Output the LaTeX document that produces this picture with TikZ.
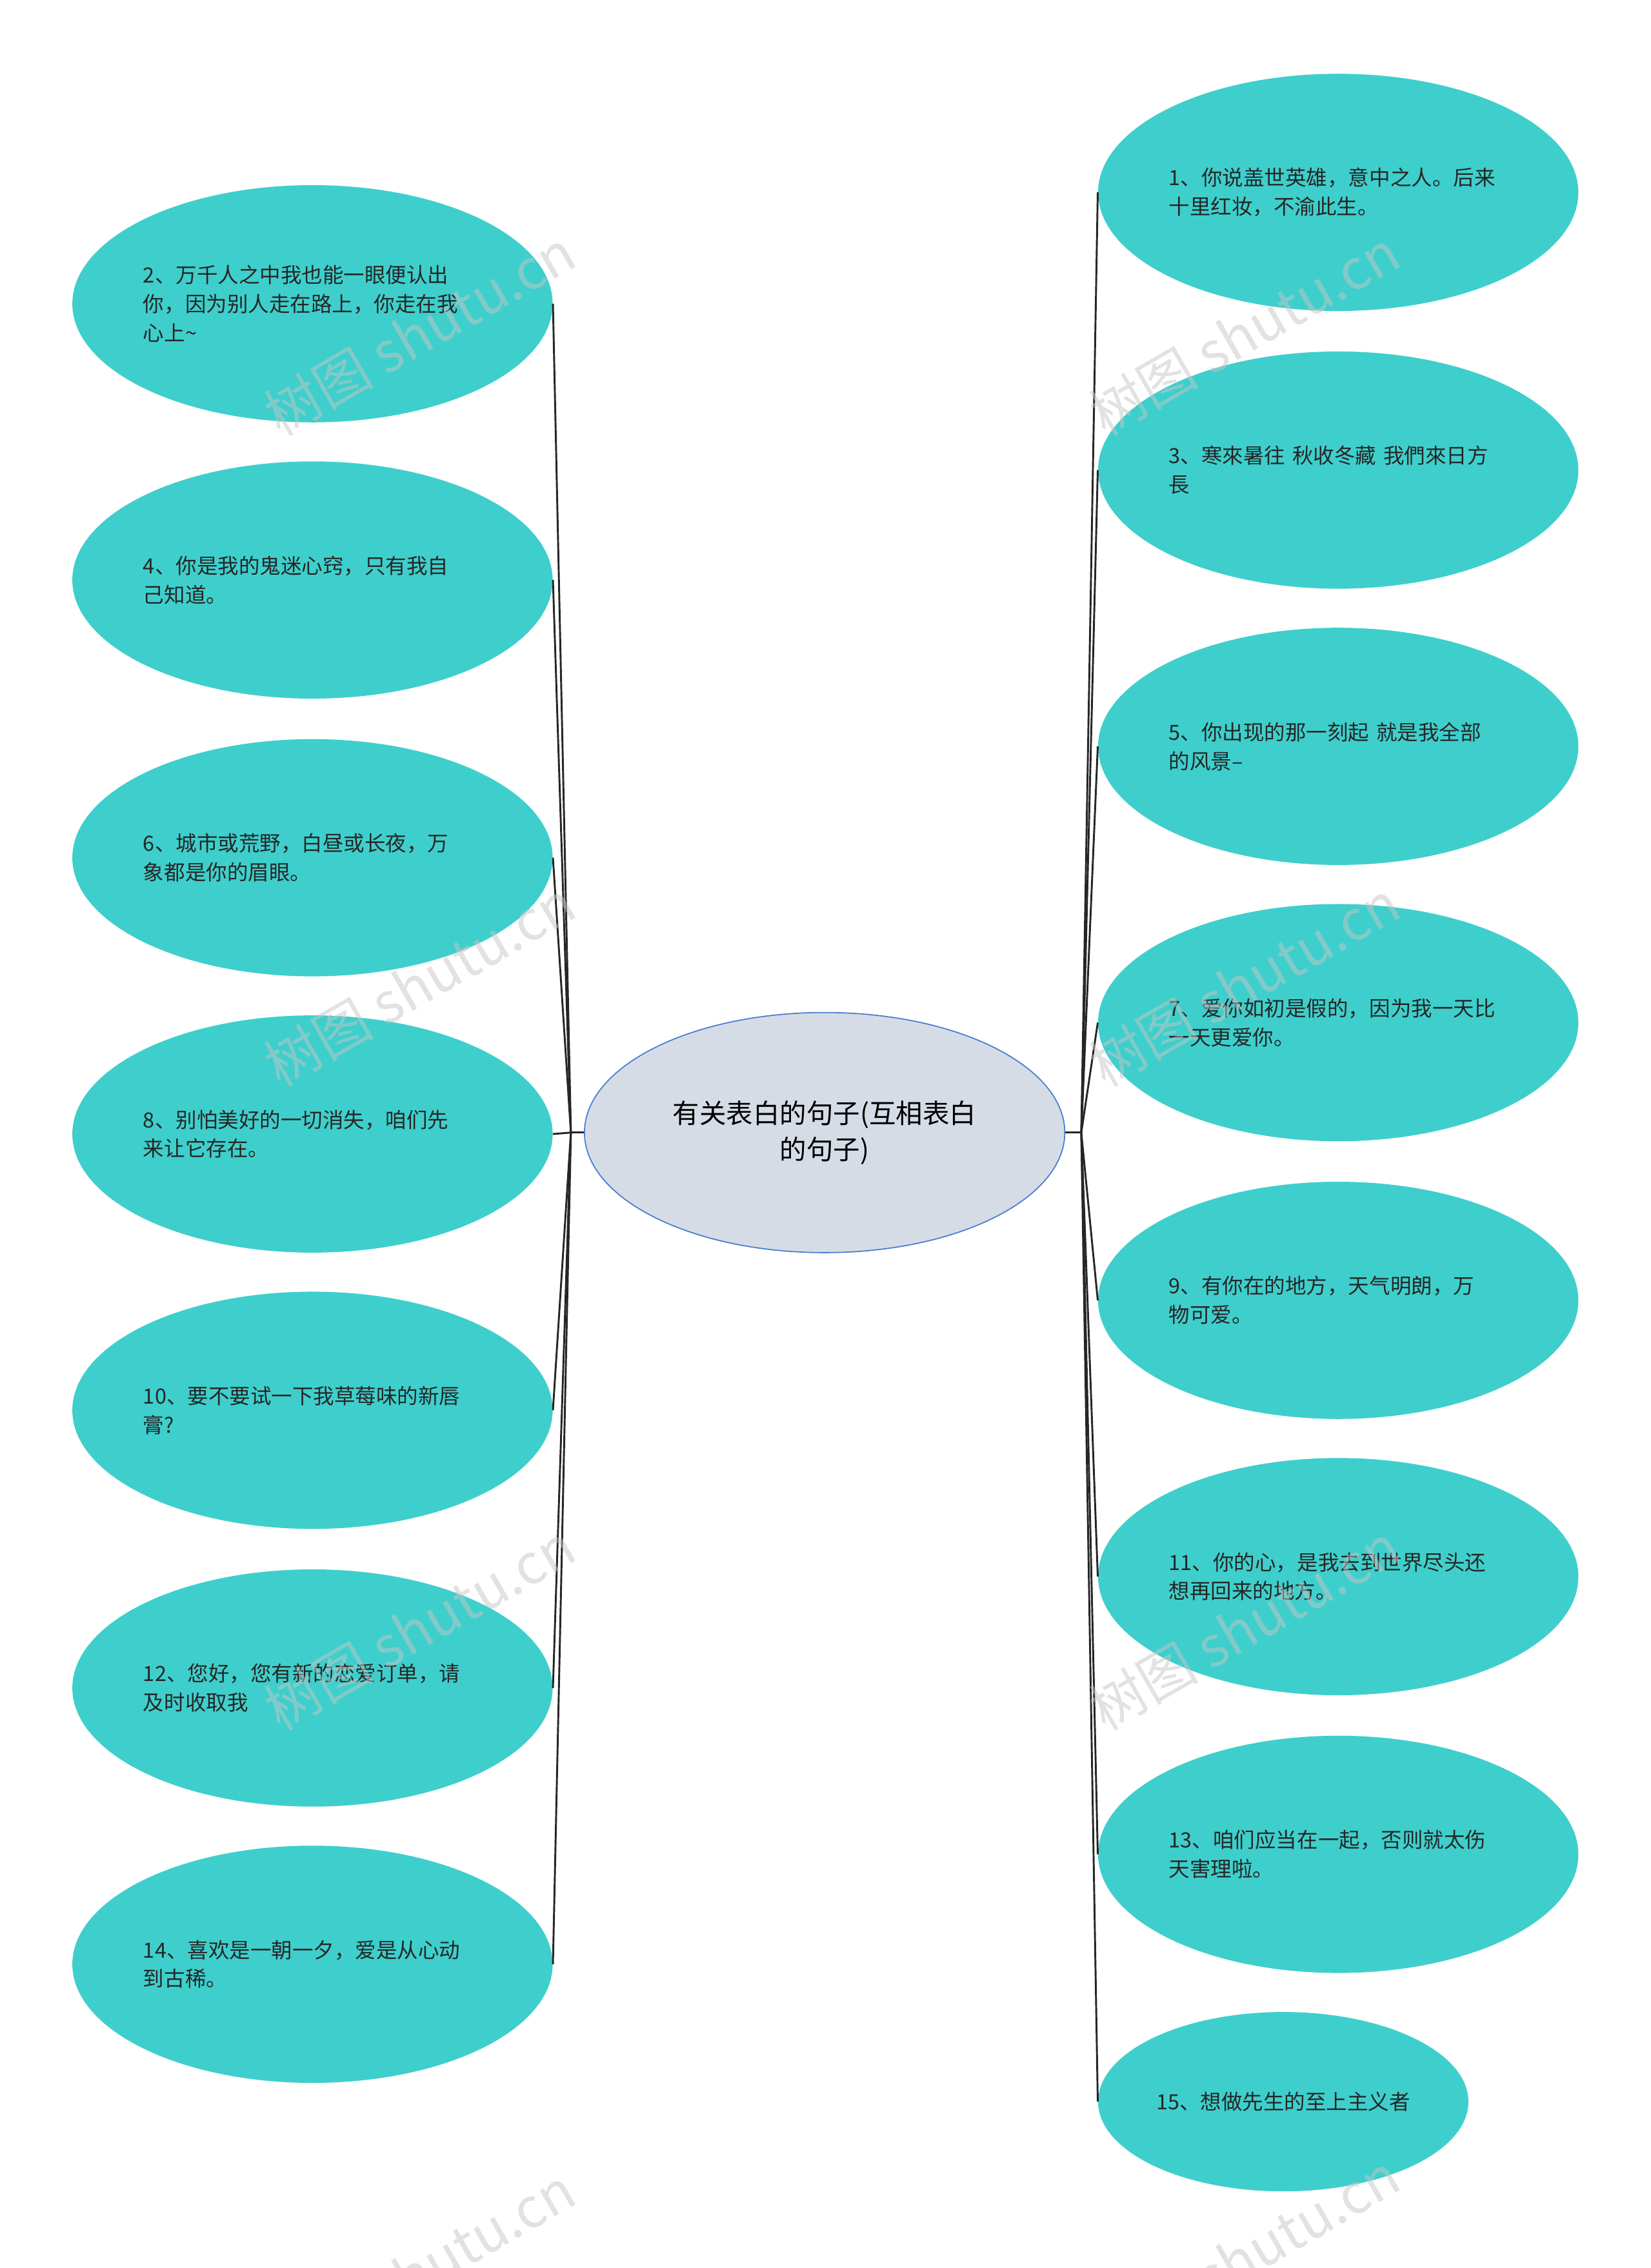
\documentclass[tikz,border=0pt]{standalone}
\usepackage{fontspec}
\setmainfont{Noto Sans CJK SC}
\usetikzlibrary{shapes.geometric}
\definecolor{leaf}{HTML}{3ECFCC}
\definecolor{cfill}{HTML}{D6DCE6}
\definecolor{cline}{HTML}{4A7FD0}
\begin{document}
\begin{tikzpicture}[x=1pt,y=-1pt,
  leafbox/.style={ellipse,fill=leaf,draw=none,minimum width=332pt,minimum height=164pt,inner sep=0pt,text width=234pt,align=left,font=\fontsize{14.5}{20}\selectfont,text=black!85},
  conn/.style={draw=black!85,line width=1.3pt},
  wm/.style={text=gray!45,opacity=0.5,rotate=30,font=\fontsize{38}{40}\selectfont}]
\useasboundingbox (0,0) rectangle (1141,1568);
\fill[white] (0,0) rectangle (1141,1568);
\node[ellipse,fill=cfill,draw=cline,line width=0.8pt,minimum width=332pt,minimum height=166pt,inner sep=0pt,align=center,font=\fontsize{18.5}{25}\selectfont] (c) at (570,783) {有关表白的句子(互相表白\\的句子)};
\node[leafbox] (l2) at (216,210) {2、万千人之中我也能一眼便认出\\你，因为别人走在路上，你走在我\\心上\textasciitilde};
\node[leafbox] (l4) at (216,401) {4、你是我的鬼迷心窍，只有我自\\己知道。};
\node[leafbox] (l6) at (216,593) {6、城市或荒野，白昼或长夜，万\\象都是你的眉眼。};
\node[leafbox] (l8) at (216,784) {8、别怕美好的一切消失，咱们先\\来让它存在。};
\node[leafbox] (l10) at (216,975) {10、要不要试一下我草莓味的新唇\\膏?};
\node[leafbox] (l12) at (216,1167) {12、您好，您有新的恋爱订单，请\\及时收取我};
\node[leafbox] (l14) at (216,1358) {14、喜欢是一朝一夕，爱是从心动\\到古稀。};
\node[leafbox] (r1) at (925,133) {1、你说盖世英雄，意中之人。后来\\十里红妆，不渝此生。};
\node[leafbox] (r3) at (925,325) {3、寒來暑往 秋收冬藏 我們來日方\\長};
\node[leafbox] (r5) at (925,516) {5、你出现的那一刻起 就是我全部\\的风景–};
\node[leafbox] (r7) at (925,707) {7、爱你如初是假的，因为我一天比\\一天更爱你。};
\node[leafbox] (r9) at (925,899) {9、有你在的地方，天气明朗，万\\物可爱。};
\node[leafbox] (r11) at (925,1090) {11、你的心，是我去到世界尽头还\\想再回来的地方。};
\node[leafbox] (r13) at (925,1282) {13、咱们应当在一起，否则就太伤\\天害理啦。};
\node[ellipse,fill=leaf,minimum width=256pt,minimum height=124pt,inner sep=0pt,font=\fontsize{14.5}{20}\selectfont,text=black!85] (r15) at (887,1453) {15、想做先生的至上主义者};
\draw[conn] (c.west) -- ++(-9,0) coordinate (lj);
\draw[conn] (c.east) -- ++(11,0) coordinate (rj);
\foreach \n in {l2,l4,l6,l8,l10,l12,l14}{\draw[conn] (lj) -- (\n.east);}
\foreach \n in {r1,r3,r5,r7,r9,r11,r13,r15}{\draw[conn] (rj) -- (\n.west);}
\foreach \p in {(290,230),(290,680),(290,1125),(290,1570),(860,230),(860,680),(860,1125),(860,1560)}{\node[wm] at \p {树图 shutu.cn};}
\end{tikzpicture}
\end{document}
